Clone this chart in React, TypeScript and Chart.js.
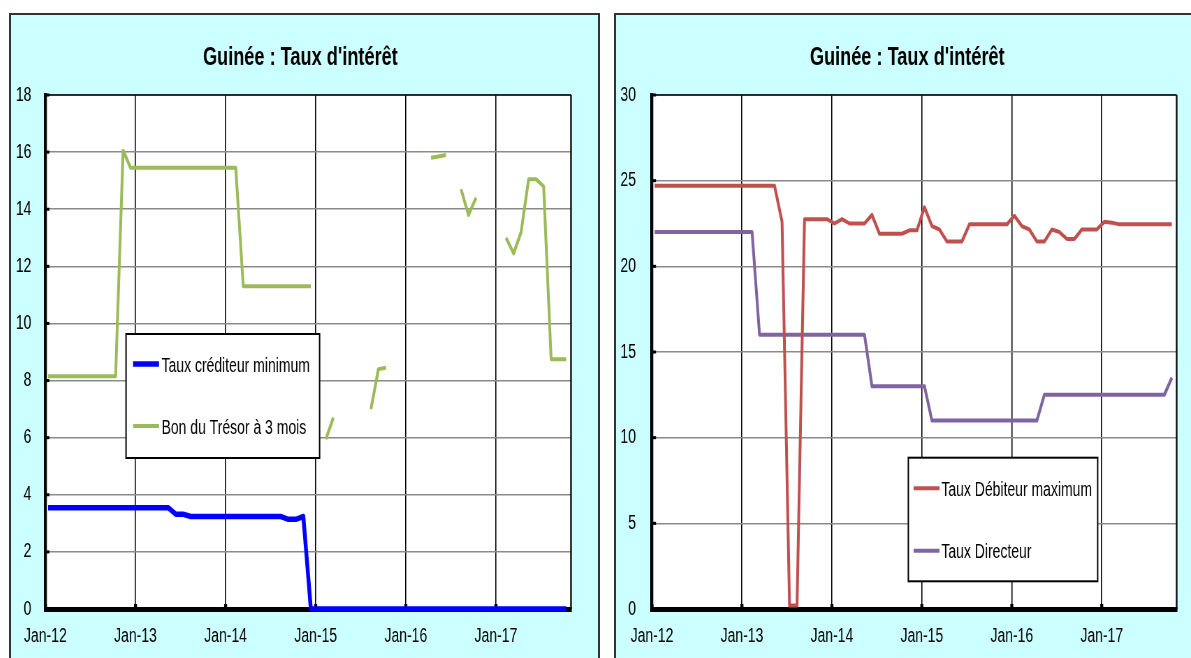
import React, { useEffect, useRef } from 'react';
import { Chart, registerables } from 'chart.js';

Chart.register(...registerables);

// ---------- DATA ----------
const X_TICK_LABELS = ['Jan-12', 'Jan-13', 'Jan-14', 'Jan-15', 'Jan-16', 'Jan-17'];
const MONTHS_PER_TICK = 12;
const MONTH_COUNT = 70; // axis spans Jan-12 .. Nov-17
const POINT_OFFSET = 0.35; // observations are dated within the month

const CHART_TITLE = "Guinée : Taux d'intérêt";

// Left chart
const TAUX_CREDITEUR_MIN = [
  3.55, 3.55, 3.55, 3.55, 3.55, 3.55, 3.55, 3.55, 3.55, 3.55, 3.55, 3.55, 3.55, 3.55, 3.55, 3.55, 3.55,
  3.32, 3.32,
  3.24, 3.24, 3.24, 3.24, 3.24, 3.24, 3.24, 3.24, 3.24, 3.24, 3.24, 3.24, 3.24,
  3.14, 3.14,
  3.24,
  0, 0, 0, 0, 0, 0, 0, 0, 0, 0, 0, 0, 0, 0, 0, 0, 0, 0, 0, 0, 0, 0, 0, 0, 0, 0, 0, 0, 0, 0, 0, 0, 0, 0, 0,
];
const BON_TRESOR_3M = [
  8.15, 8.15, 8.15, 8.15, 8.15, 8.15, 8.15, 8.15, 8.15, 8.15,
  16.05,
  15.45, 15.45, 15.45, 15.45, 15.45, 15.45, 15.45, 15.45, 15.45, 15.45, 15.45, 15.45, 15.45, 15.45, 15.45,
  11.3, 11.3, 11.3, 11.3, 11.3, 11.3, 11.3, 11.3, 11.3, 11.3,
  null, 5.95, 6.7,
  null, null, null, null,
  7.0, 8.4, 8.45,
  null, null, null, null, null,
  15.8, 15.85, 15.9,
  null,
  14.7, 13.8, 14.4,
  null, null, null,
  13.0, 12.45, 13.2, 15.05, 15.05, 14.8,
  8.75, 8.75, 8.75,
];
const LEFT_SERIES_LABELS = ['Taux créditeur minimum', 'Bon du Trésor à 3 mois'];
const LEFT_Y = { min: 0, max: 18, step: 2 };

// Right chart
const TAUX_DEBITEUR_MAX = [
  24.7, 24.7, 24.7, 24.7, 24.7, 24.7, 24.7, 24.7, 24.7, 24.7, 24.7, 24.7, 24.7, 24.7, 24.7, 24.7, 24.7,
  22.6, 0.2, 0.2,
  22.75, 22.75, 22.75, 22.75,
  22.5, 22.75,
  22.5, 22.5, 22.5,
  23.0,
  21.9, 21.9, 21.9, 21.9,
  22.1, 22.1,
  23.45, 22.35, 22.15,
  21.45, 21.45, 21.45,
  22.45, 22.45, 22.45, 22.45, 22.45, 22.45,
  22.95, 22.35, 22.15,
  21.45, 21.45,
  22.15, 22.0,
  21.6, 21.6,
  22.15, 22.15, 22.15,
  22.6, 22.55,
  22.45, 22.45, 22.45, 22.45, 22.45, 22.45, 22.45, 22.45,
];
const TAUX_DIRECTEUR = [
  22, 22, 22, 22, 22, 22, 22, 22, 22, 22, 22, 22, 22, 22,
  16, 16, 16, 16, 16, 16, 16, 16, 16, 16, 16, 16, 16, 16, 16,
  13, 13, 13, 13, 13, 13, 13, 13,
  11, 11, 11, 11, 11, 11, 11, 11, 11, 11, 11, 11, 11, 11, 11,
  12.5, 12.5, 12.5, 12.5, 12.5, 12.5, 12.5, 12.5, 12.5, 12.5, 12.5, 12.5, 12.5, 12.5, 12.5, 12.5, 12.5,
  13.5,
];
const RIGHT_SERIES_LABELS = ['Taux Débiteur maximum', 'Taux Directeur'];
const RIGHT_Y = { min: 0, max: 30, step: 5 };

// ---------- STYLE ----------
const FONT = "'Liberation Sans', Arial, sans-serif";
const PANEL_BG = '#CCFFFF';

type Series = { label: string; values: (number | null)[]; color: string; width: number };
type PanelSpec = {
  box: { left: number; top: number; width: number; height: number; rightBorder: boolean };
  W: number; H: number; k: number;
  plot: { left: number; right: number; top: number; bottom: number };
  y: { min: number; max: number; step: number };
  yLabelPad: number;
  series: Series[];
  title: { x: number; y: number };
  legend: { x: number; y: number; w: number; h: number; sx1: number; sx2: number; tx: number; rows: number[] };
};

const LEFT_SPEC: PanelSpec = {
  box: { left: 9, top: 13, width: 591, height: 645, rightBorder: true },
  W: 840, H: 643, k: 587 / 840,
  plot: { left: 49.2, right: 801.4, top: 80, bottom: 594 },
  y: LEFT_Y,
  yLabelPad: 20,
  series: [
    { label: LEFT_SERIES_LABELS[0], values: TAUX_CREDITEUR_MIN, color: '#0000FF', width: 5.5 },
    { label: LEFT_SERIES_LABELS[1], values: BON_TRESOR_3M, color: '#9BBB59', width: 4 },
  ],
  title: { x: 414, y: 42.5 },
  legend: { x: 164.6, y: 319, w: 277, h: 124, sx1: 174.6, sx2: 211.8, tx: 215.4, rows: [349, 411] },
};

const RIGHT_SPEC: PanelSpec = {
  box: { left: 614, top: 13, width: 577, height: 645, rightBorder: false },
  W: 823, H: 643, k: 575 / 823,
  plot: { left: 51.5, right: 802.5, top: 80, bottom: 594 },
  y: RIGHT_Y,
  yLabelPad: 23,
  series: [
    { label: RIGHT_SERIES_LABELS[0], values: TAUX_DEBITEUR_MAX, color: '#C0504D', width: 4 },
    { label: RIGHT_SERIES_LABELS[1], values: TAUX_DIRECTEUR, color: '#8064A2', width: 4 },
  ],
  title: { x: 416.8, y: 42.5 },
  legend: { x: 418.4, y: 442.7, w: 271, h: 123.6, sx1: 426, sx2: 463, tx: 465.7, rows: [473.3, 535.7] },
};

const toPoints = (values: (number | null)[]) =>
  values.map((v, i) => ({ x: i + POINT_OFFSET, y: v }));

function framePlugin(spec: PanelSpec) {
  const k = spec.k;
  return {
    id: 'frame',
    beforeDraw(chart: any) {
      const { ctx, chartArea: a } = chart;
      ctx.save();
      ctx.fillStyle = '#FFFFFF';
      ctx.fillRect(a.left, a.top, a.right - a.left, a.bottom - a.top);
      ctx.restore();
    },
    beforeDatasetsDraw(chart: any) {
      const { ctx, chartArea: a, scales } = chart;
      ctx.save();
      ctx.strokeStyle = '#000';
      // top border
      ctx.lineWidth = 1.6;
      ctx.beginPath();
      ctx.moveTo(a.left, a.top);
      ctx.lineTo(a.right, a.top);
      ctx.stroke();
      // right border
      ctx.lineWidth = 1.6 / k;
      ctx.beginPath();
      ctx.moveTo(a.right, a.top);
      ctx.lineTo(a.right, a.bottom);
      ctx.stroke();
      // tick marks
      ctx.fillStyle = '#000';
      for (const t of scales.y.ticks) {
        const py = scales.y.getPixelForValue(t.value);
        ctx.fillRect(a.left, py - 1.5, 4 / k, 3);
      }
      for (const t of scales.x.ticks) {
        const px = scales.x.getPixelForValue(t.value);
        ctx.fillRect(px - 1.5 / k, a.bottom - 5, 3 / k, 5);
      }
      ctx.restore();
    },
    afterDraw(chart: any) {
      const { ctx } = chart;
      ctx.save();
      // title
      ctx.fillStyle = '#000';
      ctx.font = `bold 26px ${FONT}`;
      ctx.textAlign = 'center';
      ctx.textBaseline = 'middle';
      ctx.fillText(CHART_TITLE, spec.title.x, spec.title.y);
      // legend
      const L = spec.legend;
      ctx.fillStyle = '#FFFFFF';
      ctx.fillRect(L.x, L.y, L.w, L.h);
      ctx.strokeStyle = '#000';
      ctx.lineWidth = 2;
      ctx.strokeRect(L.x, L.y, L.w, L.h);
      ctx.font = `20px ${FONT}`;
      ctx.textAlign = 'left';
      ctx.textBaseline = 'middle';
      chart.data.datasets.forEach((ds: any, i: number) => {
        const ry = L.rows[i];
        ctx.strokeStyle = ds.borderColor;
        ctx.lineWidth = ds.borderWidth;
        ctx.lineCap = 'butt';
        ctx.beginPath();
        ctx.moveTo(L.sx1, ry);
        ctx.lineTo(L.sx2, ry);
        ctx.stroke();
        ctx.fillStyle = '#000';
        ctx.fillText(ds.label, L.tx, ry + 2);
      });
      ctx.restore();
    },
  };
}

function buildConfig(spec: PanelSpec): any {
  const k = spec.k;
  return {
    type: 'line',
    data: {
      datasets: spec.series.map((s) => ({
        label: s.label,
        data: toPoints(s.values),
        borderColor: s.color,
        backgroundColor: s.color,
        borderWidth: s.width,
        pointRadius: 0,
        pointHoverRadius: 0,
        tension: 0,
        spanGaps: false,
        fill: false,
        clip: false,
        borderJoinStyle: 'round',
        borderCapStyle: 'butt',
      })),
    },
    options: {
      responsive: false,
      animation: false,
      events: [],
      layout: { padding: { top: spec.plot.top, right: spec.W - spec.plot.right, bottom: 0, left: 0 } },
      plugins: {
        legend: { display: false },
        title: { display: false },
        tooltip: { enabled: false },
      },
      scales: {
        x: {
          type: 'linear',
          min: 0,
          max: MONTH_COUNT,
          afterBuildTicks: (s: any) => {
            s.ticks = s.ticks.filter((t: any) => t.value % MONTHS_PER_TICK === 0);
          },
          afterFit: (s: any) => {
            s.height = spec.H - spec.plot.bottom;
          },
          ticks: {
            stepSize: MONTHS_PER_TICK,
            autoSkip: false,
            maxRotation: 0,
            minRotation: 0,
            padding: 15,
            color: '#000',
            font: { family: FONT, size: 20 },
            callback: (v: number) => X_TICK_LABELS[Math.round(v / MONTHS_PER_TICK)] ?? '',
          },
          grid: { color: '#000', lineWidth: 1.1 / k, drawTicks: false },
          border: { color: '#000', width: 5 },
        },
        y: {
          min: spec.y.min,
          max: spec.y.max,
          afterFit: (s: any) => {
            s.width = spec.plot.left;
          },
          ticks: {
            stepSize: spec.y.step,
            padding: spec.yLabelPad,
            color: '#000',
            font: { family: FONT, size: 20 },
          },
          grid: { color: '#8a8a8a', lineWidth: 1.6, drawTicks: false },
          border: { color: '#000', width: 3 / k },
        },
      },
    },
    plugins: [framePlugin(spec)],
  };
}

function Panel({ spec }: { spec: PanelSpec }) {
  const ref = useRef<HTMLCanvasElement>(null);
  useEffect(() => {
    if (!ref.current) return;
    const chart = new Chart(ref.current, buildConfig(spec));
    return () => chart.destroy();
  }, [spec]);
  const b = spec.box;
  return (
    <div
      style={{
        position: 'absolute',
        left: b.left,
        top: b.top,
        width: b.width,
        height: b.height,
        boxSizing: 'border-box',
        background: PANEL_BG,
        borderTop: '2px solid #333',
        borderLeft: '2px solid #333',
        borderRight: b.rightBorder ? '2px solid #333' : 'none',
        borderBottom: 'none',
        overflow: 'hidden',
      }}
    >
      <div
        style={{
          position: 'absolute',
          left: 0,
          top: 0,
          width: spec.W,
          height: spec.H,
          transform: `scaleX(${spec.k})`,
          transformOrigin: '0 0',
        }}
      >
        <canvas ref={ref} width={spec.W} height={spec.H} style={{ display: 'block' }} />
      </div>
    </div>
  );
}

export default function App() {
  return (
    <div>
      <Panel spec={LEFT_SPEC} />
      <Panel spec={RIGHT_SPEC} />
    </div>
  );
}
